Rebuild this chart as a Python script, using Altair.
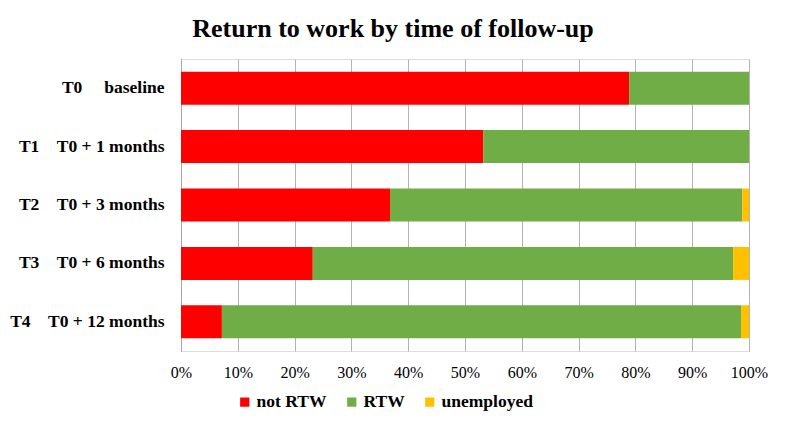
import altair as alt
import pandas as pd

NB = "\u00a0"
codes = ["T0", "T1", "T2", "T3", "T4"]
descs = ["baseline", "T0 + 1 months", "T0 + 3 months", "T0 + 6 months", "T0 + 12 months"]
gaps = [5, 4, 4, 4, 4]
labels = [c + NB * g + d for c, g, d in zip(codes, gaps, descs)]

series = ["not RTW", "RTW", "unemployed"]
not_rtw = [0.789, 0.532, 0.368, 0.232, 0.072]
rtw = [0.211, 0.468, 0.620, 0.740, 0.914]
unemployed = [0.000, 0.000, 0.012, 0.028, 0.014]
colors = ["#FF0000", "#70AD47", "#FFC000"]

rows = []
for i, lab in enumerate(labels):
    for k, (s, vals) in enumerate(zip(series, [not_rtw, rtw, unemployed])):
        rows.append({"label": lab, "series": s, "value": vals[i], "ord": k})
df = pd.DataFrame(rows)

FONT = "Liberation Serif"

chart = alt.Chart(df).mark_bar().encode(
    y=alt.Y("label:N", sort=labels, title=None,
            scale=alt.Scale(paddingInner=0.435, paddingOuter=0.2175),
            axis=alt.Axis(ticks=False, labelPadding=17, labelFont=FONT, labelFontSize=17.5,
                          labelFontWeight="bold", labelColor="#000000", domain=True,
                          domainColor="#a6a6a6", grid=False, labelLimit=300)),
    x=alt.X("value:Q", stack="zero", title=None,
            scale=alt.Scale(domain=[0, 1], nice=False),
            axis=alt.Axis(format=".0%", values=[i / 10 for i in range(11)], ticks=False,
                          domain=False, grid=True, gridColor="#b3b3b3", labelPadding=13,
                          labelFlush=False, labelOverlap=False,
                          labelFont=FONT, labelFontSize=16, labelColor="#000000")),
    color=alt.Color("series:N", sort=series,
                    scale=alt.Scale(domain=series, range=colors),
                    legend=alt.Legend(title=None, orient="none", direction="horizontal",
                                      legendX=55, legendY=334, symbolType="square",
                                      symbolSize=85, symbolStrokeWidth=0, labelFont=FONT,
                                      labelFontSize=17.5, labelFontWeight="bold",
                                      labelColor="#000000", labelOffset=3, columnPadding=16)),
    order=alt.Order("ord:Q"),
).properties(
    width=568, height=292,
    title=alt.TitleParams("Return to work by time of follow-up", font=FONT, fontSize=26,
                          fontWeight="bold", color="#000000", anchor="middle", frame="group",
                          dx=-72, offset=-4, baseline="alphabetic"),
    autosize=alt.AutoSizeParams(type="none"),
    padding={"left": 181, "top": 59, "right": 38, "bottom": 74},
).configure_view(stroke=None).configure(background="white")

chart.save("out.html", embed_options={"renderer": "svg", "actions": False})
